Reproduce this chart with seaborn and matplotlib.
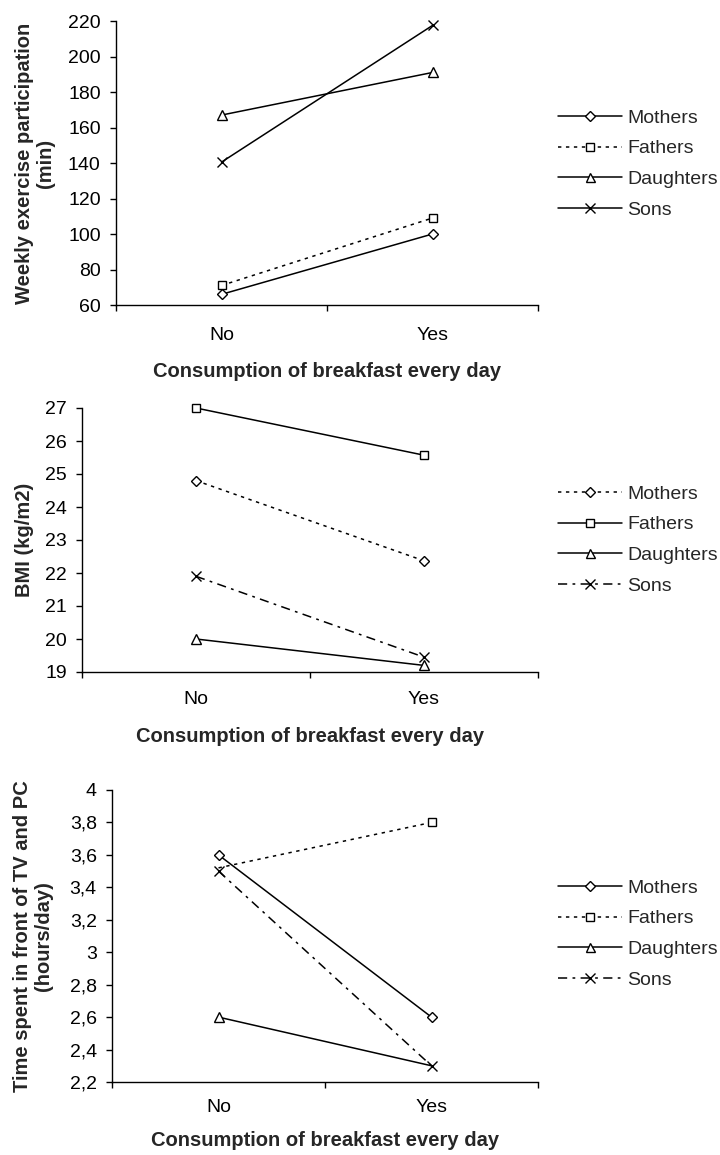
import matplotlib
matplotlib.use("Agg")
import matplotlib.pyplot as plt
from matplotlib.lines import Line2D
import seaborn as sns
import pandas as pd

# ---------------- data ----------------
categories = ["No", "Yes"]
groups = ["Mothers", "Fathers", "Daughters", "Sons"]

exercise_mothers = [66, 100]
exercise_fathers = [71, 109]
exercise_daughters = [167, 191]
exercise_sons = [140.5, 217.5]
exercise_ticks = [60, 80, 100, 120, 140, 160, 180, 200, 220]

bmi_mothers = [24.8, 22.37]
bmi_fathers = [27.0, 25.57]
bmi_daughters = [20.0, 19.2]
bmi_sons = [21.9, 19.45]
bmi_ticks = [19, 20, 21, 22, 23, 24, 25, 26, 27]

tv_mothers = [3.6, 2.6]
tv_fathers = [3.52, 3.8]
tv_daughters = [2.6, 2.3]
tv_sons = [3.5, 2.3]
tv_ticks = [2.2, 2.4, 2.6, 2.8, 3.0, 3.2, 3.4, 3.6, 3.8, 4.0]
tv_ticklabels = ["2,2", "2,4", "2,6", "2,8", "3", "3,2", "3,4", "3,6", "3,8", "4"]

xlabel_text = "Consumption of breakfast every day"
ylabel_exercise = "Weekly exercise participation\n(min)"
ylabel_bmi = "BMI (kg/m2)"
ylabel_tv = "Time spent in front of TV and PC\n(hours/day)"

# ---------------- style ----------------
sns.set_style("white")
plt.rcParams["font.family"] = ["Liberation Sans", "DejaVu Sans"]

SOLID = "-"
DOT = (0, (2.2, 3.0))
DASHDOT = (0, (6, 3.5, 1.8, 3.5))
markers = {"Mothers": "D", "Fathers": "s", "Daughters": "^", "Sons": "x"}
msizes = {"Mothers": 5.6, "Fathers": 6.2, "Daughters": 7.2, "Sons": 7.8}

TICK_FS = 14
LAB_FS = 14.5
LEG_FS = 14

fig = plt.figure(figsize=(7.2, 11.55), dpi=100)
W, H = 720, 1155


def axes_px(left, top, right, bottom):
    return fig.add_axes([left / W, 1 - bottom / H, (right - left) / W, (bottom - top) / H])


def panel(ax, series, styles, yticks, yticklabels, ylim, ylabel, ylab_x,
          tick_pad, xlab_pad, leg_center_y, markevery=None):
    markevery = markevery or {}
    for name, vals in zip(groups, series):
        df = pd.DataFrame({"Breakfast": categories, "Value": vals})
        kw = {}
        if name in markevery:
            kw["markevery"] = markevery[name]
        sns.lineplot(data=df, x="Breakfast", y="Value", ax=ax, color="black",
                     linestyle=styles[name], linewidth=1.1,
                     marker=markers[name], markersize=msizes[name],
                     markerfacecolor="white", markeredgecolor="black",
                     markeredgewidth=1.0, sort=False, legend=False,
                     clip_on=False, **kw)
    ax.set_xlim(-0.5, 1.5)
    ax.set_ylim(*ylim)
    ax.set_yticks(yticks)
    ax.set_yticklabels(yticklabels)
    ax.set_xticks([0, 1])
    ax.set_xticklabels(categories)
    ax.set_xticks([-0.5, 0.5, 1.5], minor=True)
    ax.tick_params(axis="x", which="major", length=0, pad=tick_pad,
                   labelsize=TICK_FS, colors="black")
    ax.tick_params(axis="x", which="minor", length=4.5, width=1.0,
                   direction="out", bottom=True, color="black")
    ax.tick_params(axis="y", which="major", length=4.5, width=1.0,
                   direction="out", left=True, pad=6.5, labelsize=TICK_FS,
                   colors="black")
    for s in ["top", "right"]:
        ax.spines[s].set_visible(False)
    for s in ["left", "bottom"]:
        ax.spines[s].set_color("black")
        ax.spines[s].set_linewidth(1.0)
    ax.set_xlabel(xlabel_text, fontsize=LAB_FS, fontweight="bold",
                  labelpad=xlab_pad)
    ax.set_ylabel(ylabel, fontsize=LAB_FS, fontweight="bold",
                  multialignment="center", linespacing=1.1)
    ax.yaxis.label.set_va("center")
    ax.yaxis.set_label_coords(ylab_x / W, 0.5 * (ax.get_position().y0 + ax.get_position().y1),
                              transform=fig.transFigure)
    handles = [Line2D([], [], color="black", linestyle=styles[n], linewidth=1.1,
                      marker=markers[n], markersize=msizes[n] * 0.9,
                      markerfacecolor="white", markeredgecolor="black",
                      markeredgewidth=1.0) for n in groups]
    ax.legend(handles, groups, loc="center left",
              bbox_to_anchor=(558 / W, 1 - leg_center_y / H),
              bbox_transform=fig.transFigure, frameon=False,
              fontsize=LEG_FS, handlelength=3.3, handletextpad=0.25,
              labelspacing=0.68, borderpad=0, borderaxespad=0)


# Panel 1: weekly exercise
ax1 = axes_px(116, 21, 538, 305)
panel(ax1, [exercise_mothers, exercise_fathers, exercise_daughters, exercise_sons],
      {"Mothers": SOLID, "Fathers": DOT, "Daughters": SOLID, "Sons": SOLID},
      exercise_ticks, [str(t) for t in exercise_ticks], (60, 220),
      ylabel_exercise, 35, 16, 13, 164)

# Panel 2: BMI
ax2 = axes_px(82, 408, 538, 672)
panel(ax2, [bmi_mothers, bmi_fathers, bmi_daughters, bmi_sons],
      {"Mothers": DOT, "Fathers": SOLID, "Daughters": SOLID, "Sons": DASHDOT},
      bmi_ticks, [str(t) for t in bmi_ticks], (19, 27),
      ylabel_bmi, 25, 14, 13, 540)

# Panel 3: TV / PC
ax3 = axes_px(112, 790, 538, 1082)
panel(ax3, [tv_mothers, tv_fathers, tv_daughters, tv_sons],
      {"Mothers": SOLID, "Fathers": DOT, "Daughters": SOLID, "Sons": DASHDOT},
      tv_ticks, tv_ticklabels, (2.2, 4.0),
      ylabel_tv, 33, 12, 11, 934,
      markevery={"Fathers": [1], "Daughters": [0]})

fig.savefig("out.png", dpi=100, facecolor="white")
